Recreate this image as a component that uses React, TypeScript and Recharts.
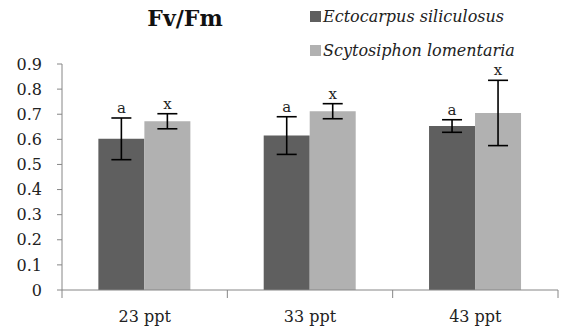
import React from "react";
import { BarChart, Bar, XAxis, YAxis, ErrorBar, LabelList } from "recharts";

const categories = ["23 ppt", "33 ppt", "43 ppt"];
const ectoValues = [0.602, 0.615, 0.653];
const ectoErrors = [0.083, 0.075, 0.025];
const scytoValues = [0.672, 0.712, 0.705];
const scytoErrors = [0.03, 0.03, 0.13];
const ectoLetters = ["a", "a", "a"];
const scytoLetters = ["x", "x", "x"];
const yTicks = [0, 0.1, 0.2, 0.3, 0.4, 0.5, 0.6, 0.7, 0.8, 0.9];

const seriesNames = ["Ectocarpus siliculosus", "Scytosiphon lomentaria"];
const colors = ["#5f5f5f", "#b1b1b1"];

const data = categories.map((c, i) => ({
  name: c,
  ecto: ectoValues[i],
  ectoErr: ectoErrors[i],
  ectoLetter: ectoLetters[i],
  scyto: scytoValues[i],
  scytoErr: scytoErrors[i],
  scytoLetter: scytoLetters[i],
}));

const FONT = "'DejaVu Serif', serif";
const AXIS = "#868686";

const makeLetter = (values: number[], errors: number[]) => (props: any) => {
  const { x, y, width, height, value, index } = props;
  const v = values[index];
  const e = errors[index];
  const pxPerUnit = height / v;
  const topY = y - e * pxPerUnit;
  return (
    <text
      x={x + width / 2}
      y={topY - 5}
      textAnchor="middle"
      fontFamily={FONT}
      fontSize={15}
      fill="#222"
    >
      {value}
    </text>
  );
};

const XTick = (props: any) => {
  const { x, y, payload, index, visibleTicksCount } = props;
  const off = payload.offset || 0;
  const last = index === (visibleTicksCount ?? categories.length) - 1;
  return (
    <g>
      <line x1={x - off} x2={x - off} y1={y} y2={y + 8} stroke={AXIS} strokeWidth={1} />
      {last && <line x1={x + off} x2={x + off} y1={y} y2={y + 8} stroke={AXIS} strokeWidth={1} />}
      <text x={x} y={y + 32} textAnchor="middle" fontFamily={FONT} fontSize={16} fill="#222">
        {payload.value}
      </text>
    </g>
  );
};

export default function App() {
  return (
    <div style={{ position: "absolute", left: 0, top: 0, width: 570, height: 332, background: "#fff" }}>
      <BarChart
        width={570}
        height={332}
        data={data}
        margin={{ top: 64, right: 12, bottom: 0, left: 0 }}
        barCategoryGap="22%"
        barGap={0}
      >
        <text x={185} y={26} textAnchor="middle" fontFamily={FONT} fontWeight="bold" fontSize={22} fill="#111">
          Fv/Fm
        </text>
        {seriesNames.map((n, i) => (
          <g key={n}>
            <rect x={310} y={11 + i * 34} width={11} height={11} fill={colors[i]} />
            <text
              x={323}
              y={22 + i * 34}
              fontFamily={FONT}
              fontStyle="italic"
              fontSize={16}
              fill="#222"
            >
              {n}
            </text>
          </g>
        ))}
        <YAxis
          width={62}
          domain={[0, 0.9]}
          ticks={yTicks}
          interval={0}
          tickSize={5}
          tickMargin={15}
          axisLine={{ stroke: AXIS }}
          tickLine={{ stroke: AXIS }}
          tick={{ fontFamily: FONT, fontSize: 16, fill: "#222" }}
          tickFormatter={(v: number) => (v === 0 ? "0" : v.toFixed(1))}
        />
        <XAxis
          dataKey="name"
          height={42}
          tickSize={0}
          tickMargin={0}
          tickLine={false}
          axisLine={{ stroke: AXIS }}
          tick={<XTick />}
          interval={0}
        />
        <Bar dataKey="ecto" name={seriesNames[0]} fill={colors[0]} isAnimationActive={false}>
          <ErrorBar dataKey="ectoErr" width={10} stroke="#000" strokeWidth={1.6} />
          <LabelList dataKey="ectoLetter" content={makeLetter(ectoValues, ectoErrors)} />
        </Bar>
        <Bar dataKey="scyto" name={seriesNames[1]} fill={colors[1]} isAnimationActive={false}>
          <ErrorBar dataKey="scytoErr" width={10} stroke="#000" strokeWidth={1.6} />
          <LabelList dataKey="scytoLetter" content={makeLetter(scytoValues, scytoErrors)} />
        </Bar>
      </BarChart>
    </div>
  );
}
